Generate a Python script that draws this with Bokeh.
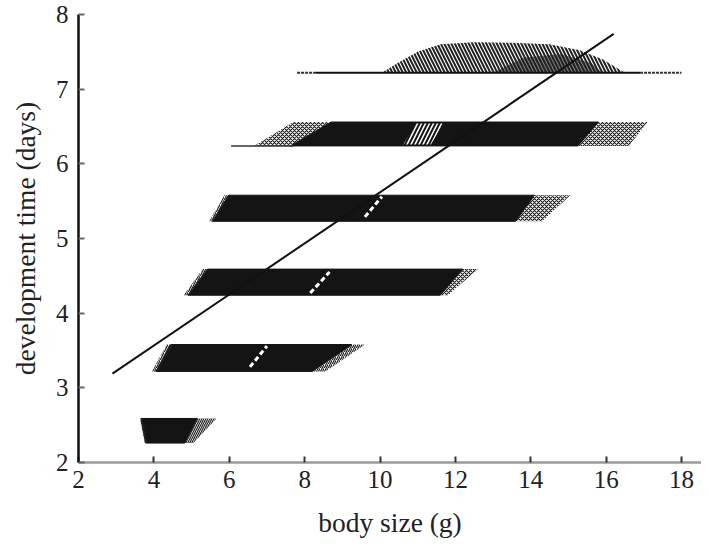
from bokeh.plotting import figure
from bokeh.models import FixedTicker, Range1d, ColumnDataSource
from bokeh.embed import file_html
from bokeh.resources import INLINE

# ---- data ----
x_ticks = [2, 4, 6, 8, 10, 12, 14, 16, 18]
y_ticks = [2, 3, 4, 5, 6, 7, 8]

# development-time bands (days 2..6): lower / upper edge of each band
band_lo = [2.26, 3.22, 4.24, 5.23, 6.24]
band_hi = [2.59, 3.58, 4.59, 5.58, 6.56]

# solid core of each band: lower-left, upper-left, upper-right, lower-right body size
core_ll = [3.78, 4.05, 4.90, 5.55, 7.62]
core_ul = [3.66, 4.45, 5.42, 5.98, 8.70]
core_ur = [5.15, 9.25, 12.20, 14.10, 15.80]
core_lr = [4.82, 8.20, 11.60, 13.60, 15.25]

# sparse (hatched) left fringe of each band
lf_ll = [3.76, 3.95, 4.79, 5.47, 6.66]
lf_ul = [3.63, 4.34, 5.30, 5.87, 7.70]
lf_ur = [3.70, 4.50, 5.45, 6.00, 8.72]
lf_lr = [3.82, 4.10, 4.93, 5.58, 7.62]
lf_pat = ["\\", "/", "/", "/", "x"]

# sparse (hatched) right fringe of each band
rf_ll = [4.82, 8.20, 11.60, 13.60, 15.25]
rf_ul = [5.15, 9.25, 12.20, 14.10, 15.80]
rf_ur = [5.66, 9.60, 12.60, 15.05, 17.10]
rf_lr = [5.05, 8.55, 11.80, 14.30, 16.60]
rf_pat = ["\\", "/", "x", "x", "x"]

# white gaps inside bands (days 3, 4, 5)
gap_x0 = [6.55, 8.15, 9.60]
gap_y0 = [3.28, 4.27, 5.29]
gap_x1 = [7.00, 8.66, 10.05]
gap_y1 = [3.56, 4.55, 5.56]

# striped gap in day-6 band
gap6_x = [10.62, 10.95, 11.68, 11.35]
gap6_y = [6.26, 6.54, 6.54, 6.26]

# thin tail line of day-6 band
tail6_x = [6.05, 7.70]
tail6_y = [6.24, 6.24]

# day-7 band: base line and hatched hump
base7_y = 7.22
base7_solid = [8.30, 16.90]
base7_left = [7.80, 8.30]
base7_right = [16.90, 18.00]
hump_x = [10.05, 10.50, 11.00, 11.60, 12.50, 13.50, 14.50, 15.30, 15.90, 16.50]
hump_y = [7.22, 7.36, 7.50, 7.60, 7.63, 7.62, 7.60, 7.52, 7.40, 7.22]
dark_x = [13.00, 13.80, 14.80, 15.60, 15.90]
dark_y = [7.22, 7.42, 7.47, 7.35, 7.22]

# fitted line
fit_x = [2.90, 16.20]
fit_y = [3.19, 7.74]

# ---- figure ----
FONT = "Liberation Serif"
p = figure(width=701, height=542, output_backend="svg", toolbar_location=None,
           x_range=Range1d(2, 18.53), y_range=Range1d(2, 8),
           min_border_left=78, min_border_right=0, min_border_top=14,
           min_border_bottom=80)
p.outline_line_color = None
p.grid.visible = False
p.background_fill_color = "white"
p.border_fill_color = "white"

def quad(ll, ul, ur, lr, lo, hi):
    xs, ys = [], []
    for a, b, c, d, l, h in zip(ll, ul, ur, lr, lo, hi):
        xs.append([a, b, c, d])
        ys.append([l, h, h, l])
    return xs, ys

cx, cy = quad(core_ll, core_ul, core_ur, core_lr, band_lo, band_hi)
p.patches(cx, cy, fill_color="#141414", line_color="#141414", line_width=1)

lx, ly = quad(lf_ll, lf_ul, lf_ur, lf_lr, band_lo, band_hi)
p.patches(xs="xs", ys="ys", source=ColumnDataSource(dict(xs=lx, ys=ly, pat=lf_pat)),
          fill_color=None, line_color=None, hatch_pattern="pat",
          hatch_color="#222222", hatch_scale=4, hatch_weight=1.2)

rx, ry = quad(rf_ll, rf_ul, rf_ur, rf_lr, band_lo, band_hi)
p.patches(xs="xs", ys="ys", source=ColumnDataSource(dict(xs=rx, ys=ry, pat=rf_pat)),
          fill_color=None, line_color=None, hatch_pattern="pat",
          hatch_color="#222222", hatch_scale=4, hatch_weight=1.2)

p.segment(gap_x0, gap_y0, gap_x1, gap_y1, line_color="white", line_width=3,
          line_dash="5 3")
p.patch(gap6_x, gap6_y, fill_color=None, line_color=None, hatch_pattern="/",
        hatch_color="white", hatch_scale=8, hatch_weight=1.6)

p.line(tail6_x, tail6_y, line_color="#333333", line_width=1.5)

# day 7
p.patch(hump_x, hump_y, fill_color=None, line_color=None, hatch_pattern="\\",
        hatch_color="#222222", hatch_scale=7, hatch_weight=2)
p.patch(dark_x, dark_y, fill_color="#222222", fill_alpha=0.6, line_color=None)
p.line(base7_solid, [base7_y, base7_y], line_color="#111111", line_width=2)
p.line(base7_left, [base7_y, base7_y], line_color="#333333", line_width=2, line_dash="3 1")
p.line(base7_right, [base7_y, base7_y], line_color="#333333", line_width=2, line_dash="3 1")

p.line(fit_x, fit_y, line_color="#111111", line_width=2)

# ---- axes ----
p.xaxis.ticker = FixedTicker(ticks=x_ticks)
p.yaxis.ticker = FixedTicker(ticks=y_ticks)
p.xaxis.axis_label = "body size (g)"
p.yaxis.axis_label = "development time (days)"
for ax in (p.xaxis, p.yaxis):
    ax.axis_label_text_font = FONT
    ax.axis_label_text_font_size = "27.5px"
    ax.axis_label_text_font_style = "normal"
    ax.axis_label_text_color = "#222222"
    ax.major_label_text_font = FONT
    ax.major_label_text_font_size = "25px"
    ax.major_label_text_color = "#222222"
    ax.major_tick_in = 6
    ax.major_tick_out = 0
    ax.minor_tick_line_color = None
    ax.axis_line_width = 2.5
    ax.major_tick_line_width = 2
p.yaxis.axis_line_color = "#111111"
p.yaxis.major_tick_line_color = "#666666"
p.xaxis.axis_line_color = "#9a9a9a"
p.xaxis.major_tick_line_color = "#333333"
p.xaxis.major_label_standoff = 8
p.yaxis.major_label_standoff = 10
p.xaxis.axis_label_standoff = 16
p.yaxis.axis_label_standoff = 12

open("out.html", "w").write(file_html(p, INLINE))
